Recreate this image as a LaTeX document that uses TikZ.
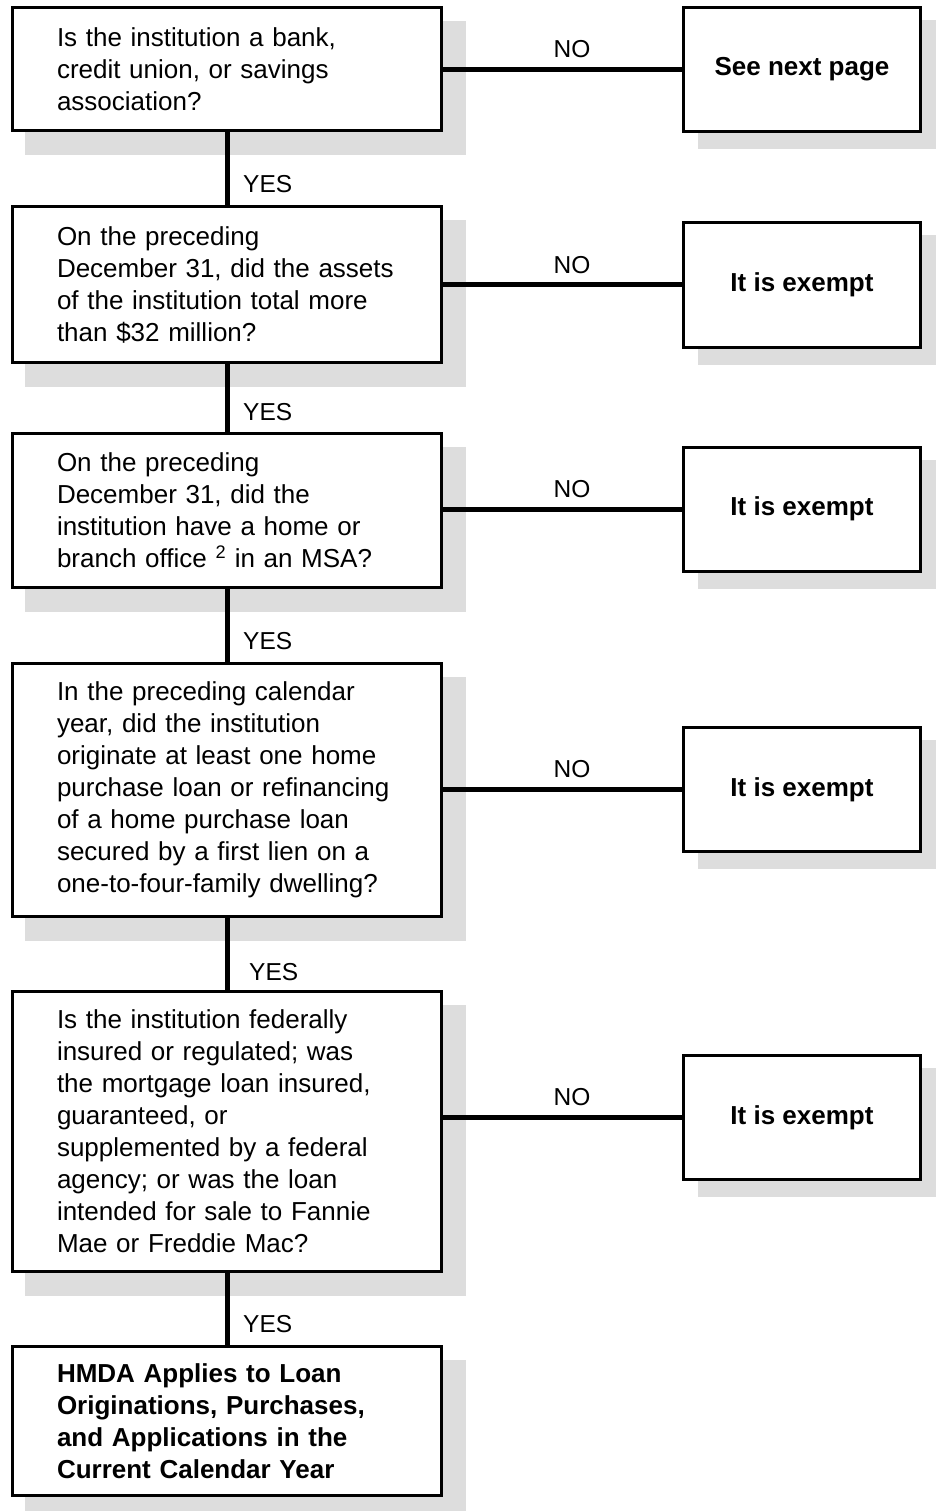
\documentclass[tikz,border=0pt]{standalone}
\usepackage{fontspec}
\setmainfont{Liberation Sans}
\usetikzlibrary{backgrounds}
\definecolor{shadowgray}{RGB}{221,221,221}
\begin{document}
\begin{tikzpicture}[x=1pt,y=-1pt,
  qbox/.style={draw=black, line width=3pt, fill=white, inner sep=0pt,
    minimum width=429pt, text width=340pt, align=left,
    font=\fontsize{26}{32}\selectfont},
  rbox/.style={draw=black, line width=3pt, fill=white, inner sep=0pt,
    minimum width=237pt, minimum height=124pt, align=center,
    font=\fontsize{26}{32}\selectfont\bfseries},
  conn/.style={draw=black, line width=5pt},
  lbl/.style={font=\fontsize{24.5}{28}\selectfont, inner sep=0pt},
  nolbl/.style={lbl, pos=0.54, anchor=base, yshift=11.7pt},
  yeslbl/.style={lbl, anchor=base west},
]
\useasboundingbox (0,0) rectangle (935,1511);

% question boxes
\node[qbox, minimum height=123pt] (b1) at (227,69)
  {Is the institution a bank,\\ credit union, or savings\\ association?};
\node[qbox, minimum height=156pt] (b2) at (227,284.5)
  {On the preceding\\ December 31, did the assets\\ of the institution total more\\ than \$32 million?};
\node[qbox, minimum height=154pt] (b3) at (227,510.5)
  {On the preceding\\ December 31, did the\\ institution have a home or\\ branch office \textsuperscript{2} in an MSA?};
\node[qbox, minimum height=253pt] (b4) at (227,790)
  {In the preceding calendar\\ year, did the institution\\ originate at least one home\\ purchase loan or refinancing\\ of a home purchase loan\\ secured by a first lien on a\\ one-to-four-family dwelling?};
\node[qbox, minimum height=280pt] (b5) at (227,1131.5)
  {Is the institution federally\\ insured or regulated; was\\ the mortgage loan insured,\\ guaranteed, or\\ supplemented by a federal\\ agency; or was the loan\\ intended for sale to Fannie\\ Mae or Freddie Mac?};
\node[qbox, minimum height=149pt, font=\fontsize{26}{32}\selectfont\bfseries] (b6) at (227,1421)
  {HMDA Applies to Loan\\ Originations, Purchases,\\ and Applications in the\\ Current Calendar Year};

% result boxes
\node[rbox] (r1) at (802,69.5) {See next page};
\node[rbox] (r2) at (802,285) {It is exempt};
\node[rbox] (r3) at (802,509) {It is exempt};
\node[rbox] (r4) at (802,789.5) {It is exempt};
\node[rbox] (r5) at (802,1117.5) {It is exempt};

% shadows
\begin{scope}[on background layer]
  \foreach \i in {1,...,6}
    \fill[shadowgray] ([xshift=14pt,yshift=-15pt]b\i.north west) rectangle ([xshift=23pt,yshift=-23pt]b\i.south east);
  \foreach \i in {1,...,5}
    \fill[shadowgray] ([xshift=16pt,yshift=-14pt]r\i.north west) rectangle ([xshift=16pt,yshift=-16pt]r\i.south east);
\end{scope}

% YES connectors
\draw[conn] (b1.south) -- (b2.north);
\draw[conn] (b2.south) -- (b3.north);
\draw[conn] (b3.south) -- (b4.north);
\draw[conn] (b4.south) -- (b5.north);
\draw[conn] (b5.south) -- (b6.north);
\node[yeslbl] (y1) at ([xshift=16pt,yshift=12pt]b2.north) {YES};
\node[yeslbl] (y2) at ([xshift=16pt,yshift=12pt]b3.north) {YES};
\node[yeslbl] (y3) at ([xshift=16pt,yshift=13pt]b4.north) {YES};
\node[yeslbl] (y4) at ([xshift=22pt,yshift=10pt]b5.north) {YES};
\node[yeslbl] (y5) at ([xshift=16pt,yshift=13pt]b6.north) {YES};

% NO connectors
\draw[conn] (r1.west -| b1.east) -- node[nolbl] (n1) {NO} (r1.west);
\draw[conn] (r2.west -| b2.east) -- node[nolbl] (n2) {NO} (r2.west);
\draw[conn] (r3.west -| b3.east) -- node[nolbl] (n3) {NO} (r3.west);
\draw[conn] (r4.west -| b4.east) -- node[nolbl] (n4) {NO} (r4.west);
\draw[conn] (r5.west -| b5.east) -- node[nolbl] (n5) {NO} (r5.west);
\end{tikzpicture}
\end{document}
